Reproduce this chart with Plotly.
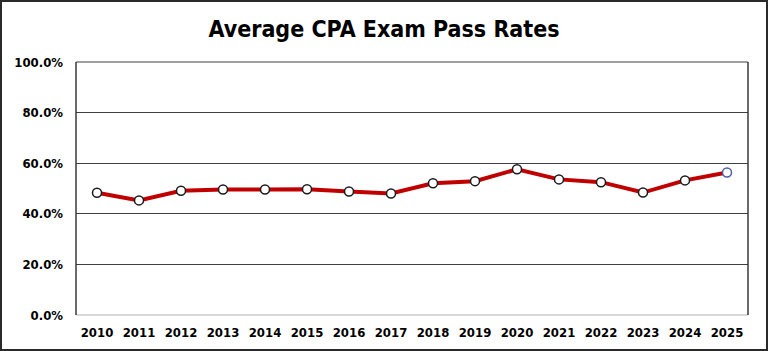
import plotly.graph_objects as go

years = ["2010", "2011", "2012", "2013", "2014", "2015", "2016", "2017",
         "2018", "2019", "2020", "2021", "2022", "2023", "2024", "2025"]
pass_rates = [48.3, 45.3, 49.1, 49.6, 49.6, 49.7, 48.8, 48.0,
              52.1, 52.9, 57.6, 53.6, 52.5, 48.4, 53.2, 56.3]
y_ticks = [0, 20, 40, 60, 80, 100]
y_tick_labels = ["0.0%", "20.0%", "40.0%", "60.0%", "80.0%", "100.0%"]

marker_lines = ["#1a1a1a"] * (len(years) - 1) + ["#4a5fa8"]

fig = go.Figure()
fig.add_trace(go.Scatter(
    x=years, y=pass_rates, mode="lines+markers",
    line=dict(color="#c00000", width=4),
    marker=dict(size=9, color="white", line=dict(color=marker_lines, width=1.5)),
    hoverinfo="x+y",
))

L, R, T, B = 76, 20, 62, 36
W, H = 768, 351
pw, ph = W - L - R, H - T - B

tick_font = dict(family="DejaVu Sans Condensed, DejaVu Sans", size=13, color="black", weight="bold")

fig.update_layout(
    width=W, height=H,
    margin=dict(l=L, r=R, t=T, b=B),
    paper_bgcolor="white", plot_bgcolor="white",
    showlegend=False,
    title=dict(text="<b>Average CPA Exam Pass Rates</b>", x=0.5, xanchor="center",
               y=1 - 29 / H, yanchor="middle",
               font=dict(family="DejaVu Sans Condensed, DejaVu Sans", size=23, color="black")),
    xaxis=dict(type="category", range=[-0.5, len(years) - 0.5],
               showgrid=False, showline=False, ticks="",
               tickfont=tick_font, ticklabelstandoff=8, fixedrange=True),
    yaxis=dict(range=[0, 100], tickvals=y_ticks, ticktext=y_tick_labels,
               showgrid=True, gridcolor="#404040", gridwidth=1,
               zeroline=False, showline=False, ticks="",
               tickfont=tick_font, ticklabelstandoff=12, fixedrange=True),
)

# plot-area edges
fig.add_shape(type="line", xref="paper", yref="paper", x0=0, x1=1, y0=1, y1=1,
              line=dict(color="#404040", width=1), layer="below")
fig.add_shape(type="line", xref="paper", yref="paper", x0=0, x1=1, y0=0, y1=0,
              line=dict(color="#d9d9d9", width=2))
fig.add_shape(type="line", xref="paper", yref="paper", x0=0, x1=0, y0=0, y1=1,
              line=dict(color="#3a3a3a", width=1.5))
fig.add_shape(type="line", xref="paper", yref="paper", x0=1, x1=1, y0=0, y1=1,
              line=dict(color="#3a3a3a", width=1.5))
# outer chart border
fig.add_shape(type="rect", xref="paper", yref="paper",
              x0=-(L - 1) / pw, x1=(W - L - 1) / pw,
              y0=-(B - 1) / ph, y1=(H - B - 1) / ph,
              line=dict(color="#2a2a2a", width=2), layer="above")

fig.write_html("out.html")
